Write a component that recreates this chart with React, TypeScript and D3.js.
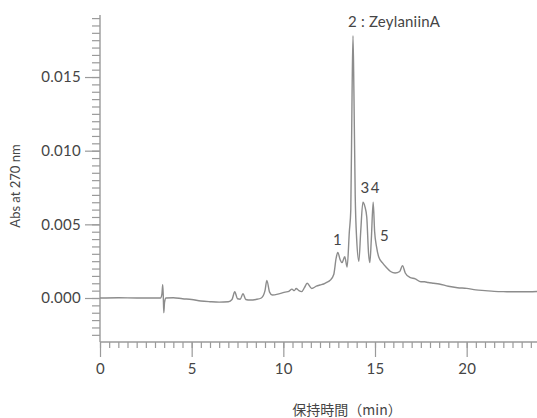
import * as d3 from "d3";
import { useEffect, useRef } from "react";

// retention time (min) and absorbance
const times = [
  0, 1, 2, 3, 3.3, 3.38, 3.42, 3.45, 3.48, 3.52, 3.6, 4.0, 4.5, 5.0, 5.5, 6.0,
  6.5, 7.0, 7.2, 7.35, 7.5, 7.65, 7.8, 7.95, 8.2, 8.5, 8.8, 9.0, 9.1, 9.25, 9.4,
  9.8, 10.1, 10.3, 10.47, 10.6, 10.7, 10.85, 11.0, 11.15, 11.3, 11.55, 11.8,
  12.0, 12.2, 12.37, 12.55, 12.75, 12.88, 12.97, 13.1, 13.2, 13.35, 13.48, 13.6,
  13.68, 13.75, 13.8, 13.85, 13.92, 14.0, 14.12, 14.22, 14.34, 14.45, 14.55,
  14.65, 14.72, 14.8, 14.9, 14.98, 15.08, 15.2, 15.4, 15.6, 15.85, 16.1, 16.35,
  16.5, 16.65, 16.9, 17.2, 17.5, 17.7, 17.9, 18.2, 18.5, 19.0, 19.5, 20.0, 20.5,
  21.0, 21.5, 22.0, 23.0, 24.0,
];
const absorb = [
  0, 0.00002, 0, 0, 0, 0.0003, 0.0009, 0.0002, -0.001, -0.0003, 0, 0.00002,
  -0.00005, -0.0001, -0.0002, -0.00025, -0.00028, -0.00025, -0.0001, 0.00042,
  -0.00005, -0.00008, 0.0003, -0.0001, -0.00014, -0.0001, 0.0, 0.0005, 0.0012,
  0.0004, 0.0002, 0.0003, 0.0004, 0.00045, 0.0006, 0.0005, 0.00065, 0.0005,
  0.00043, 0.0007, 0.001, 0.00065, 0.0008, 0.00088, 0.00095, 0.00106, 0.0012,
  0.0016, 0.0027, 0.0031, 0.0026, 0.0024, 0.0028, 0.0021, 0.0045, 0.006, 0.014,
  0.0178, 0.014, 0.007, 0.004, 0.0025, 0.0045, 0.0065, 0.0062, 0.0055, 0.003,
  0.0024, 0.004, 0.0065, 0.0045, 0.0035, 0.0028, 0.0024, 0.0021, 0.0018, 0.0017,
  0.0018, 0.0022, 0.0017, 0.0014, 0.0013, 0.0011, 0.0011, 0.00105, 0.001,
  0.00095, 0.0008, 0.0007, 0.00065, 0.00055, 0.0005, 0.00045, 0.00043, 0.00042,
  0.00045,
];

const yMajor = [0, 0.005, 0.01, 0.015];
const xMajor = [0, 5, 10, 15, 20];

const peakLabels = ["1", "2 : ZeylaniinA", "3", "4", "5"];
const peakTimes = [13.0, 13.8, 14.34, 14.9, 15.08];
const peakHeights = [0.0031, 0.0178, 0.0065, 0.0065, 0.0035];

const font = "Lato, 'Open Sans', sans-serif";

function App() {
  const svgRef = useRef(null);

  useEffect(() => {
    const svg = d3.select(svgRef.current);
    svg.selectAll("*").remove();

    const x = d3.scaleLinear().domain([0, 24]).range([100, 540]);
    const y = d3.scaleLinear().domain([-0.003, 0.019]).range([342.2, 18.1]);

    const yMinor = d3.range(-5, 39).map((i) => i * 0.0005);
    const xMinor = d3.range(0, 48).map((i) => i * 0.5);

    const axisColor = "#9a9a9a";
    const textColor = "#454545";

    // y axis
    const gy = svg.append("g").attr("transform", "translate(100,0)");
    gy.call(d3.axisLeft(y).tickValues(yMinor).tickSize(8).tickFormat(() => ""));
    gy.call((g) => g.select(".domain").remove());
    const gy2 = svg.append("g").attr("transform", "translate(100,0)");
    gy2.call(
      d3.axisLeft(y).tickValues(yMajor).tickSize(15).tickPadding(4).tickFormat(d3.format(".3f"))
    );
    gy2.call((g) => g.select(".domain").remove());

    // x axis
    const gx = svg.append("g").attr("transform", "translate(0,342)");
    gx.call(d3.axisBottom(x).tickValues(xMinor).tickSize(6).tickFormat(() => ""));
    gx.call((g) => g.select(".domain").remove());
    const gx2 = svg.append("g").attr("transform", "translate(0,342)");
    gx2.call(d3.axisBottom(x).tickValues(xMajor).tickSize(15).tickPadding(6).tickFormat(d3.format("d")));
    gx2.call((g) => g.select(".domain").remove());

    svg.selectAll(".tick line").attr("stroke", axisColor).attr("stroke-width", 1.2);
    svg
      .selectAll(".tick text")
      .attr("fill", textColor)
      .style("font-family", font)
      .style("font-size", "15px")
      .style("letter-spacing", "0.3px");

    svg.append("line").attr("x1", 100).attr("x2", 100).attr("y1", 15).attr("y2", 342)
      .attr("stroke", axisColor).attr("stroke-width", 1.4);
    svg.append("line").attr("x1", 100).attr("x2", 537).attr("y1", 342).attr("y2", 342)
      .attr("stroke", axisColor).attr("stroke-width", 1.4);

    // trace
    const pts = times.map((t, i) => [t, absorb[i]]);
    const line = d3
      .line()
      .x((d) => x(d[0]))
      .y((d) => y(d[1]))
      .curve(d3.curveMonotoneX);
    svg.append("path").datum(pts).attr("d", line).attr("fill", "none")
      .attr("stroke", "#8c8c8c").attr("stroke-width", 1.4);

    // peak labels
    const offs = [
      [-1, -7, "middle"],
      [-5, -9, "start"],
      [2, -9, "middle"],
      [2, -9, "middle"],
      [8, -5, "middle"],
    ];
    peakLabels.forEach((lab, i) => {
      svg.append("text")
        .attr("x", x(peakTimes[i]) + offs[i][0])
        .attr("y", y(peakHeights[i]) + offs[i][1])
        .attr("text-anchor", offs[i][2])
        .attr("fill", textColor)
        .style("font-family", font)
        .style("font-size", "15px")
        .style("letter-spacing", "0.2px")
        .text(lab);
    });

    // axis titles
    svg.append("text")
      .attr("transform", "translate(20,186) rotate(-90)")
      .attr("text-anchor", "middle")
      .attr("fill", textColor)
      .style("font-family", font)
      .style("font-size", "13px")
      .text("Abs at 270 nm");
    svg.append("text")
      .attr("x", 347)
      .attr("y", 415)
      .attr("text-anchor", "middle")
      .attr("fill", textColor)
      .style("font-family", "'Noto Sans CJK JP', sans-serif")
      .style("font-size", "14px")
      .text("保持時間（min）");
  }, []);

  return (
    <svg
      ref={svgRef}
      width={537}
      height={418}
      style={{ position: "absolute", left: 0, top: 0, background: "#fff" }}
    ></svg>
  );
}

export default App;
